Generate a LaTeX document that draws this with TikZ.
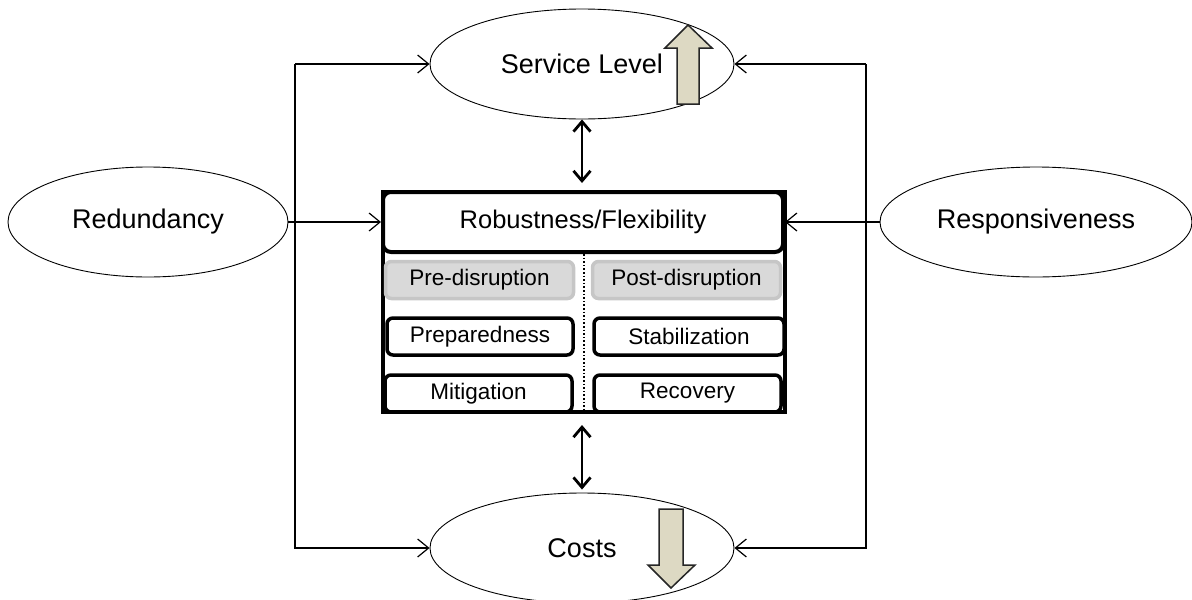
\documentclass[tikz,border=0pt]{standalone}
\usepackage{fontspec}
\setmainfont{Liberation Sans}
\usetikzlibrary{shapes.geometric,arrows.meta}
\definecolor{tan}{HTML}{DDD9C3}
\begin{document}
\begin{tikzpicture}[x=1pt,y=-1pt,
    goal/.style={draw, ellipse, line width=0.9pt, inner sep=0pt,
                 minimum width=304pt, minimum height=110pt,
                 font=\fontsize{27}{32}\selectfont},
    phase/.style={draw, rounded corners=6pt, line width=3.5pt, inner sep=0pt,
                  minimum width=188pt, minimum height=37pt,
                  font=\fontsize{22.5}{27}\selectfont},
    stage/.style={phase, draw=gray!45, fill=gray!30},
    conn/.style={-{Straight Barb[length=11pt,width=18pt]}, line width=1.2pt},
    dbl/.style={{Straight Barb[length=10pt,width=17pt]}-{Straight Barb[length=10pt,width=17pt]}, line width=2.8pt},
    blockarrow/.style={fill=tan, draw=black!85, line width=1.5pt}]
    \useasboundingbox (0,0) rectangle (1192,600);

    % outer ellipses
    \node[goal] (sl) at (582,64) {Service Level};
    \node[goal] (cost) at (582,548) {Costs};
    \node[goal, minimum width=280pt] (red) at (148,222) {Redundancy};
    \node[goal, minimum width=312pt] (resp) at (1036,222) {Responsiveness};

    % central box
    \node[draw, line width=4pt, minimum width=402pt, minimum height=220pt] (frame) at (584,302) {};
    \node[draw, rounded corners=8pt, line width=4pt, minimum width=400pt, minimum height=60pt,
          font=\fontsize{25.5}{30}\selectfont] (rob) at (583,222) {Robustness/Flexibility};
    \node[stage] (pre) at (479.5,280) {Pre-disruption};
    \node[stage] (post) at (686.5,280) {Post-disruption};
    \node[phase, minimum width=186pt] (prep) at (480,336.5) {Preparedness};
    \node[phase, minimum width=190pt] (stab) at (689,336.5) {Stabilization};
    \node[phase, minimum width=187pt] (mit) at (478.5,393.5) {Mitigation};
    \node[phase, minimum width=187pt] (rec) at (687.5,393.5) {Recovery};
    \draw[line width=1.6pt, dotted] (rob.south -| frame.north) -- (frame.south);

    % connectors
    \coordinate (lt) at (295,64);
    \coordinate (lb) at (295,548);
    \coordinate (rt) at (866,64);
    \coordinate (rb) at (866,548);
    \draw[conn] (lt) -- (sl.west);
    \draw[conn] (lt) -- (lb) -- (cost.west);
    \draw[conn] (rt) -- (sl.east);
    \draw[conn] (rt) -- (rb) -- (cost.east);
    \draw[conn] (red.east) -- (rob.west);
    \draw[conn] (resp.west) -- (rob.east);
    \draw[dbl, shorten >=7pt] (sl.south) -- (sl.south |- frame.north);
    \draw[dbl, shorten <=11pt, shorten >=3pt] (frame.south -| cost.north) -- (cost.north);

    % up and down arrows
    \draw[blockarrow] (677,104) -- (677,48) -- (665,48) -- (688,25) -- (712,48) -- (699,48) -- (699,104) -- cycle;
    \draw[blockarrow] (659,509) -- (683,509) -- (683,565) -- (695,565) -- (671,588) -- (648,565) -- (659,565) -- cycle;
\end{tikzpicture}
\end{document}
